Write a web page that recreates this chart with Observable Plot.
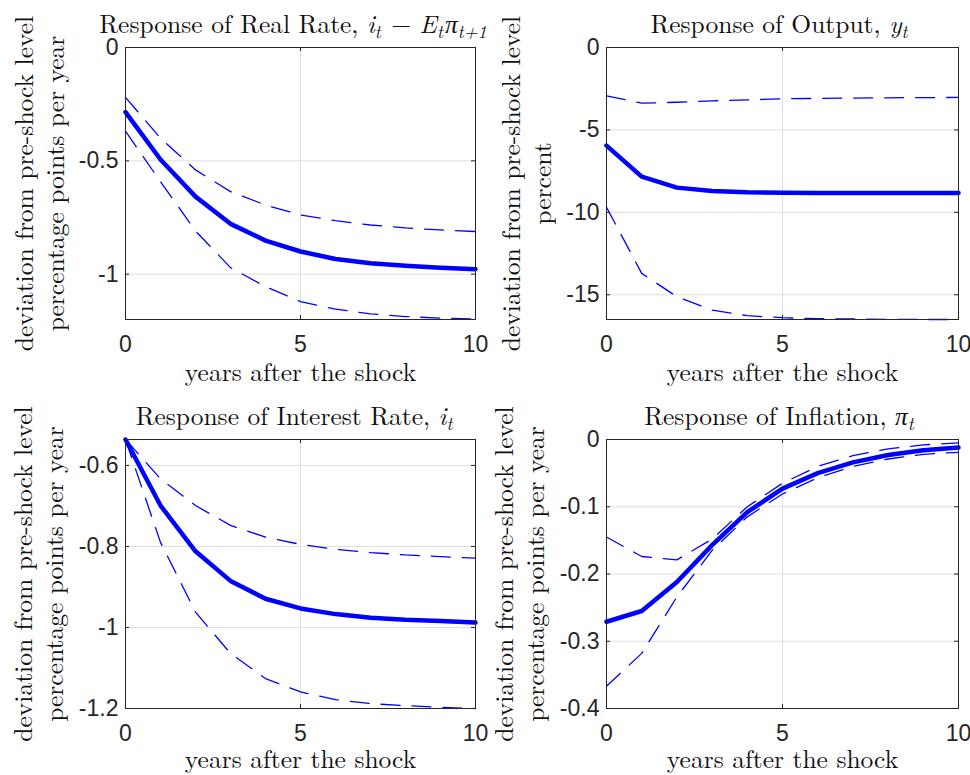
<!DOCTYPE html>
<html><head><meta charset="utf-8">
<script src="https://cdn.jsdelivr.net/npm/d3@7"></script>
<script src="https://cdn.jsdelivr.net/npm/@observablehq/plot@0.6"></script>
<style>
body{margin:0;background:#fff;}
#root{position:relative;width:970px;height:775px;overflow:hidden;background:#fff;}
.panel{position:absolute;}
.panel svg{overflow:visible;background:transparent !important;}
</style></head><body><div id="root"></div>
<script>
// ---- data ----
const years = [0,1,2,3,4,5,6,7,8,9,10];
const xTicks = [0,5,10];

const realRateMid   = [-0.285,-0.494,-0.658,-0.778,-0.852,-0.900,-0.933,-0.952,-0.963,-0.972,-0.978];
const realRateUpper = [-0.220,-0.400,-0.540,-0.636,-0.695,-0.739,-0.764,-0.783,-0.796,-0.805,-0.812];
const realRateLower = [-0.369,-0.592,-0.809,-0.971,-1.055,-1.121,-1.154,-1.175,-1.187,-1.194,-1.198];
const realRateTicks = [0,-0.5,-1];

const outputMid   = [-5.95,-7.83,-8.50,-8.70,-8.78,-8.81,-8.82,-8.82,-8.82,-8.82,-8.82];
const outputUpper = [-2.93,-3.38,-3.32,-3.24,-3.18,-3.11,-3.09,-3.07,-3.05,-3.04,-3.03];
const outputLower = [-9.69,-13.70,-15.12,-15.93,-16.27,-16.39,-16.45,-16.47,-16.49,-16.50,-16.50];
const outputTicks = [0,-5,-10,-15];

const interestMid   = [-0.536,-0.699,-0.812,-0.885,-0.929,-0.953,-0.967,-0.976,-0.981,-0.984,-0.988];
const interestUpper = [-0.536,-0.633,-0.699,-0.748,-0.777,-0.795,-0.807,-0.815,-0.821,-0.825,-0.829];
const interestLower = [-0.536,-0.790,-0.962,-1.064,-1.126,-1.159,-1.178,-1.188,-1.193,-1.197,-1.200];
const interestTicks = [-0.6,-0.8,-1,-1.2];

const inflationMid   = [-0.271,-0.255,-0.212,-0.157,-0.108,-0.073,-0.050,-0.034,-0.023,-0.016,-0.012];
const inflationUpper = [-0.145,-0.174,-0.179,-0.148,-0.100,-0.065,-0.040,-0.024,-0.014,-0.008,-0.005];
const inflationLower = [-0.367,-0.318,-0.234,-0.165,-0.115,-0.081,-0.057,-0.040,-0.029,-0.022,-0.019];
const inflationTicks = [0,-0.1,-0.2,-0.3,-0.4];

const yLabelRate = "deviation from pre-shock level\npercentage points per year";
const yLabelOutput = "deviation from pre-shock level\npercent";
const xLabel = "years after the shock";

// title pieces: [text, italic, subscript]
const titleRealRate = [["Response of Real Rate, ",false,false],["i",true,false],["t",true,true],[" \u2212 ",false,false],["E",true,false],["t",true,true],["\u03c0",true,false],["t+1",true,true]];
const titleOutput = [["Response of Output, ",false,false],["y",true,false],["t",true,true]];
const titleInterest = [["Response of Interest Rate, ",false,false],["i",true,false],["t",true,true]];
const titleInflation = [["Response of Inflation, ",false,false],["\u03c0",true,false],["t",true,true]];

// ---- drawing ----
const BLUE = "#0000ff";
const SERIF = "'Latin Modern Roman','Liberation Serif',serif";
const SANS = "'Liberation Sans',Arial,sans-serif";
const SERIF_SIZE = 25.5;
const root = document.getElementById("root");

function panel({left, top, width, height, mL, mR, mT, mB, domain, ticks, mid, upper, lower, title, titleDx, yLabel, yLabelX, xLabelDy}) {
  const plotW = width - mL - mR, plotH = height - mT - mB;
  const svg = Plot.plot({
    width, height,
    marginLeft: mL, marginRight: mR, marginTop: mT, marginBottom: mB,
    style: {fontFamily: SANS, fontSize: "23px", color: "#262626", background: "transparent", overflow: "visible"},
    x: {domain: [0,10], ticks: xTicks, tickSize: 0, tickPadding: 16, tickFormat: d => String(d), label: null},
    y: {domain, ticks, tickSize: 0, tickPadding: 7, tickFormat: d => String(d), label: null},
    marks: [
      Plot.gridX(xTicks, {stroke: "#dfdfdf", strokeOpacity: 1}),
      Plot.gridY(ticks, {stroke: "#dfdfdf", strokeOpacity: 1}),
      Plot.tickX(xTicks, {x: d => d, stroke: "#262626", insetBottom: plotH - 4}),
      Plot.tickX(xTicks, {x: d => d, stroke: "#262626", insetTop: plotH - 4}),
      Plot.tickY(ticks, {y: d => d, stroke: "#262626", insetRight: plotW - 4}),
      Plot.tickY(ticks, {y: d => d, stroke: "#262626", insetLeft: plotW - 4}),
      Plot.line(years, {x: years, y: upper, stroke: BLUE, strokeWidth: 1.3, strokeDasharray: "19,12"}),
      Plot.line(years, {x: years, y: lower, stroke: BLUE, strokeWidth: 1.3, strokeDasharray: "19,12"}),
      Plot.line(years, {x: years, y: mid, stroke: BLUE, strokeWidth: 4.5}),
      Plot.frame({stroke: "#262626", strokeWidth: 1}),
      Plot.axisX({ticks: xTicks, tickSize: 0, tickPadding: 16, tickFormat: d => String(d), fill: "#262626", fontSize: 23}),
      Plot.axisY({ticks, tickSize: 0, tickPadding: 7, tickFormat: d => String(d), fill: "#262626", fontSize: 23}),
      Plot.text([xLabel], {frameAnchor: "bottom", dy: xLabelDy, lineAnchor: "middle", textAnchor: "middle", fontSize: SERIF_SIZE, fill: "#111"}),
      Plot.text([yLabel], {frameAnchor: "left", dx: yLabelX - mL, rotate: -90, lineAnchor: "middle", textAnchor: "middle", lineHeight: 1.22, fontSize: SERIF_SIZE, fill: "#111"})
    ]
  });
  const s = d3.select(svg);
  s.selectAll('g[aria-label="text"] text').style("font-family", SERIF);
  s.selectAll('g[aria-label="x-axis tick label"] text, g[aria-label="y-axis tick label"] text').style("font-family", SANS);
  // title with math-style subscripts
  const t = s.append("text")
    .attr("x", mL + plotW / 2 + titleDx).attr("y", mT - 14)
    .attr("text-anchor", "middle").attr("fill", "#111")
    .style("font-family", SERIF).style("font-size", SERIF_SIZE + "px");
  let shifted = false;
  for (const [txt, it, sub] of title) {
    const ts = t.append("tspan").text(txt);
    if (it) ts.style("font-style", "italic");
    if (sub) { ts.style("font-size", "18px"); if (!shifted) { ts.attr("dy", 5); shifted = true; } }
    else if (shifted) { ts.attr("dy", -5).attr("dx", 2); shifted = false; }
  }
  const div = document.createElement("div");
  div.className = "panel";
  div.style.left = left + "px"; div.style.top = top + "px";
  div.appendChild(svg);
  root.appendChild(div);
}

panel({left: 0, top: 0, width: 485, height: 390, mL: 125, mR: 10, mT: 47, mB: 71,
  domain: [-1.2, 0], ticks: realRateTicks, mid: realRateMid, upper: realRateUpper, lower: realRateLower,
  title: titleRealRate, titleDx: -7, yLabel: yLabelRate, yLabelX: 38, xLabelDy: 53});
panel({left: 485, top: 0, width: 485, height: 390, mL: 121, mR: 12, mT: 47, mB: 71,
  domain: [-16.5, 0], ticks: outputTicks, mid: outputMid, upper: outputUpper, lower: outputLower,
  title: titleOutput, titleDx: -3, yLabel: yLabelOutput, yLabelX: 40, xLabelDy: 53});
panel({left: 0, top: 390, width: 485, height: 385, mL: 125, mR: 10, mT: 49, mB: 67,
  domain: [-1.2, -0.536], ticks: interestTicks, mid: interestMid, upper: interestUpper, lower: interestLower,
  title: titleInterest, titleDx: -6, yLabel: yLabelRate, yLabelX: 37, xLabelDy: 51});
panel({left: 485, top: 390, width: 485, height: 385, mL: 121, mR: 12, mT: 49, mB: 67,
  domain: [-0.4, 0], ticks: inflationTicks, mid: inflationMid, upper: inflationUpper, lower: inflationLower,
  title: titleInflation, titleDx: -3, yLabel: yLabelRate, yLabelX: 33, xLabelDy: 51});
</script></body></html>
